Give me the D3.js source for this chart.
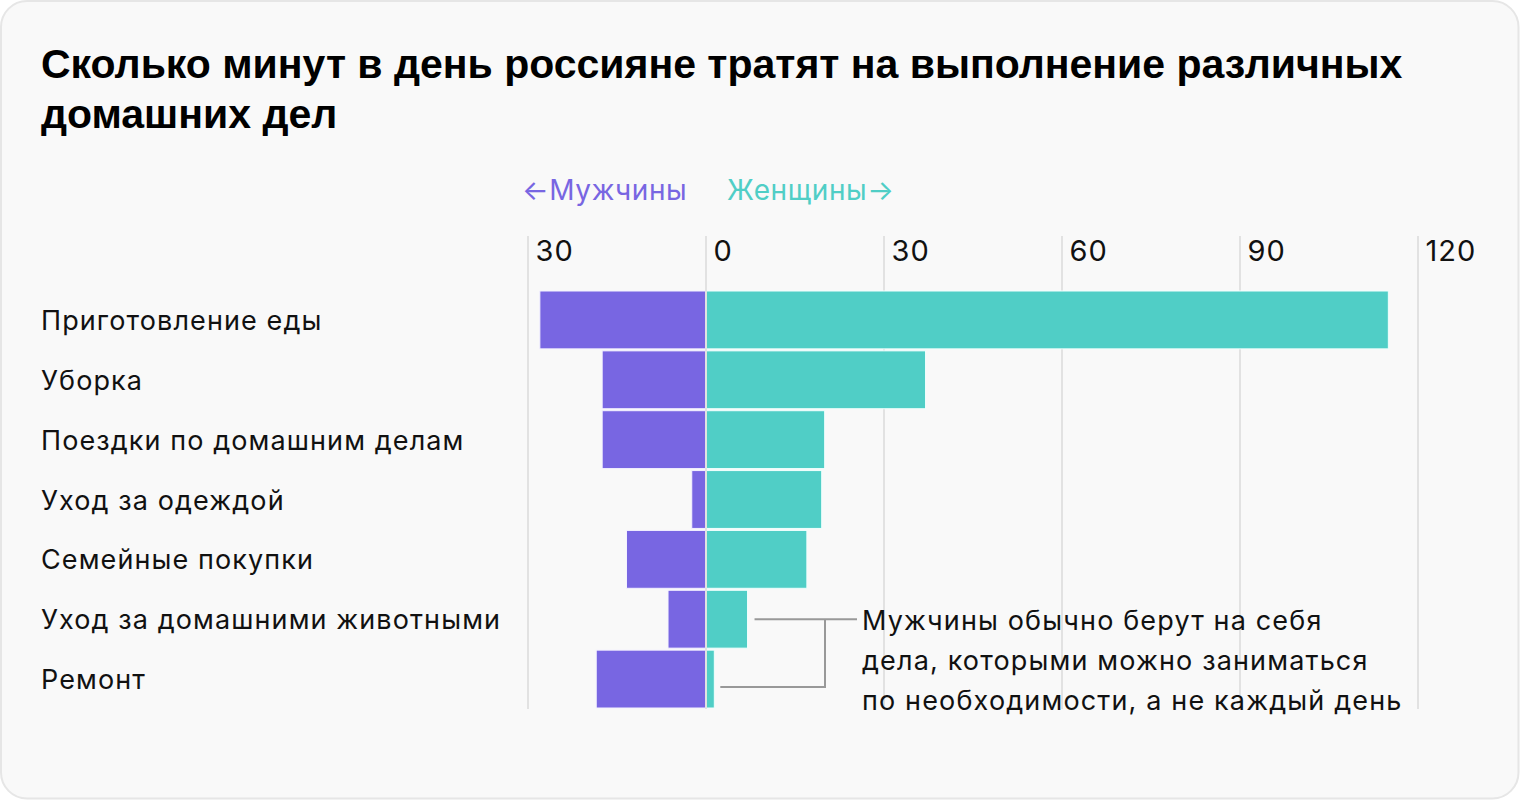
<!DOCTYPE html>
<html><head><meta charset="utf-8">
<script src="https://cdn.jsdelivr.net/npm/d3@7"></script>
<style>html,body{margin:0;padding:0;background:#fff;}svg{display:block;}</style>
</head><body>
<script>
const categories = ["Приготовление еды","Уборка","Поездки по домашним делам","Уход за одеждой","Семейные покупки","Уход за домашними животными","Ремонт"];
const menValues = [28, 17.5, 17.5, 2.4, 13.4, 6.4, 18.5];
const womenValues = [115, 37, 20, 19.5, 17, 7, 1.4];
const tickValues = [-30, 0, 30, 60, 90, 120];
const tickLabels = ["30","0","30","60","90","120"];
const titleLines = ["Сколько минут в день россияне тратят на выполнение различных","домашних дел"];
const legendLabels = ["←Мужчины","Женщины→"];
const noteLines = ["Мужчины обычно берут на себя","дела, которыми можно заниматься","по необходимости, а не каждый день"];

const W = 1520, H = 800;
const purple = "#7866e2", teal = "#50cec6";
const svg = d3.select("body").append("svg").attr("width", W).attr("height", H);

svg.append("rect").attr("x",1).attr("y",1).attr("width",W-2.5).attr("height",H-2.5)
  .attr("rx",26).attr("fill","#f9f9f9").attr("stroke","#e6e6e6").attr("stroke-width",2);

const title = svg.append("text").attr("font-family","'Liberation Sans', Arial, sans-serif")
  .attr("font-weight",700).attr("font-size",41).attr("fill","#000");
titleLines.forEach((t,i)=> title.append("tspan").attr("x",41).attr("y",78+i*50).text(t));

const x = d3.scaleLinear().domain([-30,120]).range([528,1418]);
const y = d3.scaleBand().domain(categories).range([290,709]).padding(0);

const font = "Inter, 'Noto Sans', sans-serif";

// legend
svg.append("text").attr("x",522).attr("y",200).attr("font-family",font).attr("font-size",28)
  .attr("letter-spacing",0.6).attr("fill",purple).text(legendLabels[0]);
svg.append("text").attr("x",727).attr("y",200).attr("font-family",font).attr("font-size",28)
  .attr("letter-spacing",0.6).attr("fill",teal).text(legendLabels[1]);

// grid + ticks
const axis = d3.axisTop(x).tickValues(tickValues).tickFormat((d,i)=>tickLabels[i]).tickSize(0);
const ag = svg.append("g").attr("transform","translate(0,261)").call(axis);
ag.select(".domain").remove();
ag.selectAll(".tick text").attr("font-family",font).attr("font-size",29).attr("letter-spacing",1)
  .attr("fill","#111").attr("text-anchor","start").attr("x",7).attr("dy",0).attr("y",0);

const grid = svg.append("g");
grid.selectAll("line").data(tickValues.filter(d=>d!==0)).join("line")
  .attr("x1",d=>x(d)).attr("x2",d=>x(d)).attr("y1",236).attr("y2",709)
  .attr("stroke","#e2e2e2").attr("stroke-width",2);

// bars
svg.append("g").selectAll("rect").data(categories).join("rect")
  .attr("x",(d,i)=>x(-menValues[i])).attr("width",(d,i)=>x(0)-x(-menValues[i]))
  .attr("y",d=>y(d)+1).attr("height",y.bandwidth()-2)
  .attr("fill",purple).attr("stroke","#f4f2ff").attr("stroke-width",1);
svg.append("g").selectAll("rect").data(categories).join("rect")
  .attr("x",x(0)).attr("width",(d,i)=>x(womenValues[i])-x(0))
  .attr("y",d=>y(d)+1).attr("height",y.bandwidth()-2)
  .attr("fill",teal).attr("stroke","#f0fffd").attr("stroke-width",1);

// zero line
svg.append("line").attr("x1",x(0)).attr("x2",x(0)).attr("y1",236).attr("y2",709)
  .attr("stroke","#e2e2e2").attr("stroke-width",2);

// category labels
svg.append("g").selectAll("text").data(categories).join("text")
  .attr("x",41).attr("y",d=>y(d)+y.bandwidth()/2+10).attr("font-family",font)
  .attr("font-size",27).attr("letter-spacing",1.1).attr("fill","#111").text(d=>d);

// annotation
const c6 = categories[5], c7 = categories[6];
const ya = y(c6)+y.bandwidth()/2, yb = y(c7)+y.bandwidth()/2+8;
const xa = x(womenValues[5])+7, xb = x(womenValues[6])+6, xv = 825, xt = 857;
const ann = svg.append("g").attr("stroke","#999").attr("stroke-width",2).attr("fill","none");
ann.append("path").attr("d",`M${xa},${ya}H${xt}`);
ann.append("path").attr("d",`M${xv},${ya}V${yb}H${xb}`);
const note = svg.append("text").attr("font-family",font).attr("font-size",27)
  .attr("letter-spacing",1.15).attr("fill","#111");
noteLines.forEach((t,i)=> note.append("tspan").attr("x",862).attr("y",630+i*40).text(t));
</script>
</body></html>
